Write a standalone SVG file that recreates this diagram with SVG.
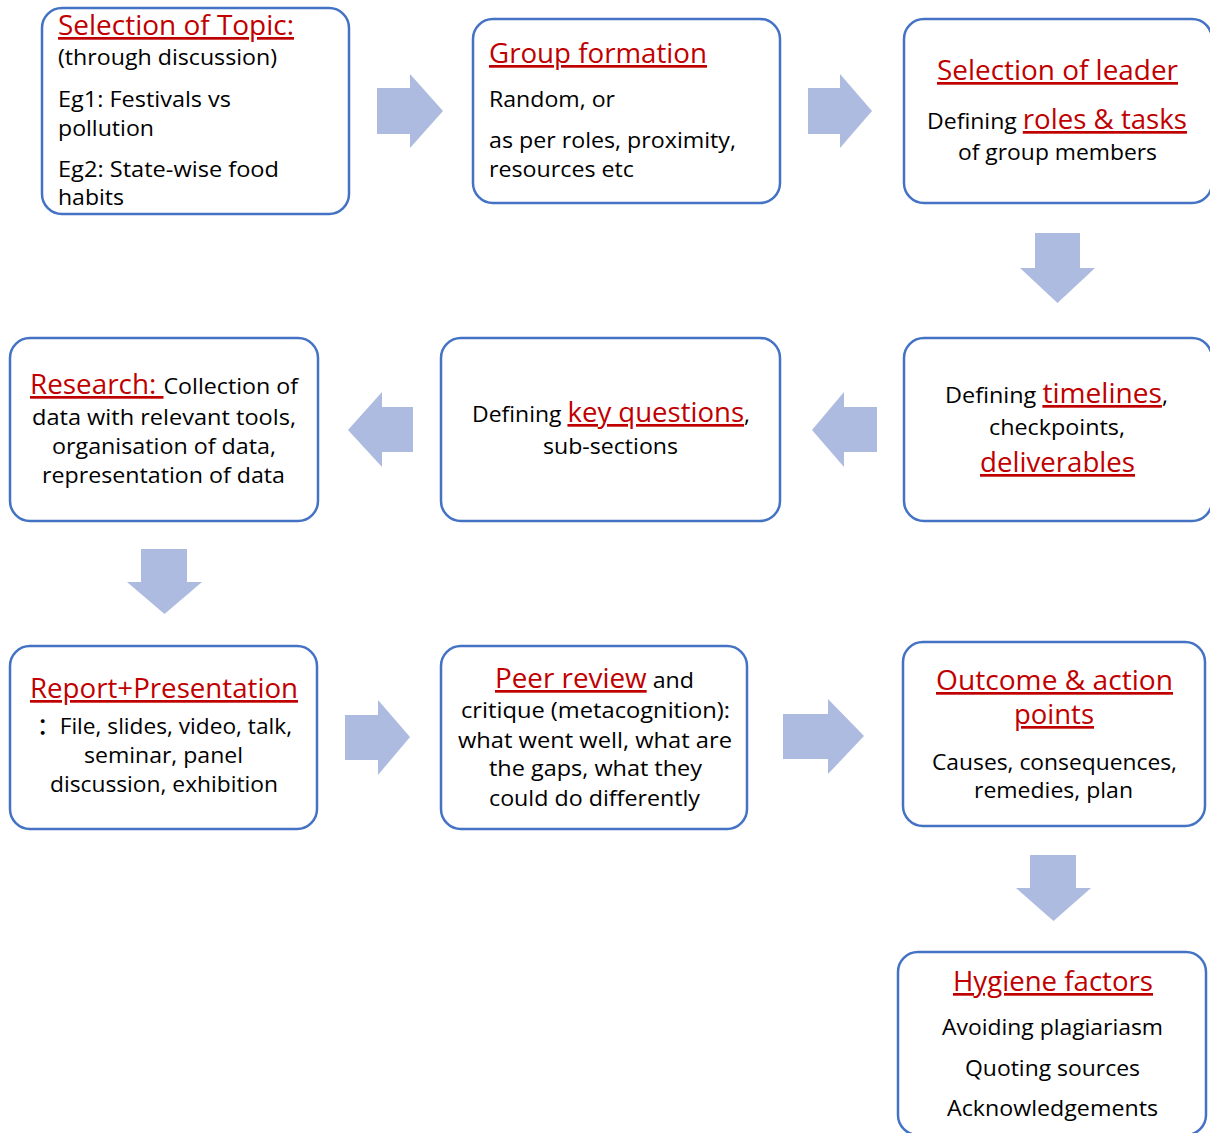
<svg xmlns="http://www.w3.org/2000/svg" width="1210" height="1133" viewBox="0 0 1210 1133">
<style>
.box{fill:#fff;stroke:#4472C4;stroke-width:2.5}
.arr{fill:#AEBBE0}
text{font-family:"Open Sans","Noto Sans","Noto Sans CJK SC",sans-serif;fill:#000;font-size:22.5px;font-weight:500}
.m{text-anchor:middle}
.h{fill:#C00000;font-size:27px;font-weight:400;text-decoration:underline}
</style>
<rect width="1210" height="1133" fill="#fff"/>
<g id="connectors">
<polygon class="arr" points="377,88 410,88 410,74 443,111 410,148 410,134 377,134"/>
<polygon class="arr" points="808,88 840,88 840,74 872,111 840,148 840,134 808,134"/>
<polygon class="arr" points="1035,233 1080,233 1080,268 1095,268 1057.5,303 1020,268 1035,268"/>
<polygon class="arr" points="877,407 844,407 844,392 812,430 844,467 844,452 877,452"/>
<polygon class="arr" points="413,407 382,407 382,392 348,430 382,467 382,452 413,452"/>
<polygon class="arr" points="141,549 187,549 187,582 202,582 164.5,614 127,582 141,582"/>
<polygon class="arr" points="345,715 378,715 378,700 410,737 378,775 378,760 345,760"/>
<polygon class="arr" points="783,714 828,714 828,699 864,736 828,774 828,759 783,759"/>
<polygon class="arr" points="1030,855 1076,855 1076,888 1091,888 1053.5,921 1016,888 1030,888"/>
</g>
<g id="topic">
<rect class="box" x="42" y="8" width="307" height="206" rx="20"/>
<text x="58" y="35" textLength="236" lengthAdjust="spacingAndGlyphs"><tspan class="h">Selection of Topic:</tspan></text>
<text x="58" y="65" textLength="219" lengthAdjust="spacingAndGlyphs">(through discussion)</text>
<text x="58" y="107" textLength="173" lengthAdjust="spacingAndGlyphs">Eg1: Festivals vs</text>
<text x="58" y="136" textLength="96" lengthAdjust="spacingAndGlyphs">pollution</text>
<text x="58" y="177" textLength="221" lengthAdjust="spacingAndGlyphs">Eg2: State-wise food</text>
<text x="58" y="205" textLength="66" lengthAdjust="spacingAndGlyphs">habits</text>
</g>
<g id="group">
<rect class="box" x="473" y="19" width="307" height="184" rx="20"/>
<text x="489" y="63" textLength="218" lengthAdjust="spacingAndGlyphs"><tspan class="h">Group formation</tspan></text>
<text x="489" y="107" textLength="126" lengthAdjust="spacingAndGlyphs">Random, or</text>
<text x="489" y="148" textLength="247" lengthAdjust="spacingAndGlyphs">as per roles, proximity,</text>
<text x="489" y="177" textLength="145" lengthAdjust="spacingAndGlyphs">resources etc</text>
</g>
<g id="leader">
<rect class="box" x="904" y="19" width="308" height="184" rx="20"/>
<text class="m" x="1057.5" y="80" textLength="241" lengthAdjust="spacingAndGlyphs"><tspan class="h">Selection of leader</tspan></text>
<text class="m" x="1057" y="129" textLength="260" lengthAdjust="spacingAndGlyphs">Defining <tspan class="h">roles &amp; tasks</tspan></text>
<text class="m" x="1057.5" y="160" textLength="199" lengthAdjust="spacingAndGlyphs">of group members</text>
</g>
<g id="timelines">
<rect class="box" x="904" y="338" width="308" height="183" rx="20"/>
<text class="m" x="1056.5" y="403" textLength="223" lengthAdjust="spacingAndGlyphs">Defining <tspan class="h">timelines</tspan>,</text>
<text class="m" x="1057" y="435" textLength="136" lengthAdjust="spacingAndGlyphs">checkpoints,</text>
<text class="m" x="1057.5" y="472" textLength="155" lengthAdjust="spacingAndGlyphs"><tspan class="h">deliverables</tspan></text>
</g>
<g id="questions">
<rect class="box" x="441" y="338" width="339" height="183" rx="20"/>
<text class="m" x="611" y="422" textLength="278" lengthAdjust="spacingAndGlyphs">Defining <tspan class="h">key questions</tspan>,</text>
<text class="m" x="610.5" y="454" textLength="135" lengthAdjust="spacingAndGlyphs">sub-sections</text>
</g>
<g id="research">
<rect class="box" x="10" y="338" width="308" height="183" rx="20"/>
<text class="m" x="164" y="394" textLength="268" lengthAdjust="spacingAndGlyphs"><tspan class="h">Research: </tspan>Collection of</text>
<text class="m" x="164" y="425" textLength="264" lengthAdjust="spacingAndGlyphs">data with relevant tools,</text>
<text class="m" x="164" y="454" textLength="224" lengthAdjust="spacingAndGlyphs">organisation of data,</text>
<text class="m" x="163.5" y="483" textLength="243" lengthAdjust="spacingAndGlyphs">representation of data</text>
</g>
<g id="report">
<rect class="box" x="10" y="646" width="307" height="183" rx="20"/>
<text class="m" x="164" y="698" textLength="268" lengthAdjust="spacingAndGlyphs"><tspan class="h">Report+Presentation</tspan></text>
<text class="m" x="164.5" y="734" textLength="255" lengthAdjust="spacingAndGlyphs">：File, slides, video, talk,</text>
<text class="m" x="163.5" y="763" textLength="159" lengthAdjust="spacingAndGlyphs">seminar, panel</text>
<text class="m" x="164" y="792" textLength="228" lengthAdjust="spacingAndGlyphs">discussion, exhibition</text>
</g>
<g id="peer">
<rect class="box" x="441" y="646" width="306" height="183" rx="20"/>
<text class="m" x="594.5" y="688" textLength="199" lengthAdjust="spacingAndGlyphs"><tspan class="h">Peer review</tspan> and</text>
<text class="m" x="595.5" y="718" textLength="269" lengthAdjust="spacingAndGlyphs">critique (metacognition):</text>
<text class="m" x="595" y="748" textLength="274" lengthAdjust="spacingAndGlyphs">what went well, what are</text>
<text class="m" x="595.5" y="776" textLength="213" lengthAdjust="spacingAndGlyphs">the gaps, what they</text>
<text class="m" x="594.5" y="806" textLength="211" lengthAdjust="spacingAndGlyphs">could do differently</text>
</g>
<g id="outcome">
<rect class="box" x="903" y="642" width="302" height="184" rx="20"/>
<text class="m" x="1054.5" y="690" textLength="237" lengthAdjust="spacingAndGlyphs"><tspan class="h">Outcome &amp; action</tspan></text>
<text class="m" x="1054" y="724" textLength="80" lengthAdjust="spacingAndGlyphs"><tspan class="h">points</tspan></text>
<text class="m" x="1054.5" y="770" textLength="245" lengthAdjust="spacingAndGlyphs">Causes, consequences,</text>
<text class="m" x="1053.5" y="798" textLength="159" lengthAdjust="spacingAndGlyphs">remedies, plan</text>
</g>
<g id="hygiene">
<rect class="box" x="898" y="952" width="308" height="183" rx="20"/>
<text class="m" x="1053" y="991" textLength="200" lengthAdjust="spacingAndGlyphs"><tspan class="h">Hygiene factors</tspan></text>
<text class="m" x="1052.5" y="1035" textLength="221" lengthAdjust="spacingAndGlyphs">Avoiding plagiariasm</text>
<text class="m" x="1052.5" y="1076" textLength="175" lengthAdjust="spacingAndGlyphs">Quoting sources</text>
<text class="m" x="1052.5" y="1116" textLength="211" lengthAdjust="spacingAndGlyphs">Acknowledgements</text>
</g>
</svg>
